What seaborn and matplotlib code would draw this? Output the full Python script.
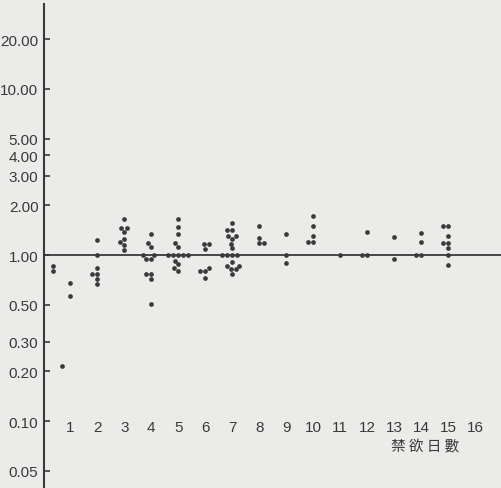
import matplotlib
matplotlib.use("Agg")
import matplotlib.pyplot as plt
import numpy as np
import pandas as pd
import seaborn as sns
from matplotlib.ticker import FixedLocator, FixedFormatter, NullLocator

# ---- data ----
# measurements taken within the first day
early_days = [0.37, 0.37, 0.68]
early_ratios = [0.86, 0.80, 0.215]

day1 = [0.68, 0.57]
day2 = [1.23, 1.0, 0.835, 0.77, 0.77, 0.72, 0.665]
day3 = [1.65, 1.45, 1.45, 1.38, 1.24, 1.19, 1.15, 1.07]
day4 = [1.34, 1.18, 1.12, 1.0, 1.0, 0.95, 0.95, 0.77, 0.77, 0.72, 0.51]
day5 = [1.65, 1.47, 1.33, 1.18, 1.12, 1.0, 1.0, 1.0, 1.0, 1.0, 0.92, 0.88, 0.84, 0.805]
day6 = [1.16, 1.16, 1.09, 0.84, 0.80, 0.80, 0.73]
day7 = [1.55, 1.41, 1.41, 1.30, 1.30, 1.25, 1.17, 1.10, 1.0, 1.0, 1.0, 1.0,
        0.91, 0.86, 0.86, 0.82, 0.82, 0.77]
day8 = [1.50, 1.26, 1.18, 1.18]
day9 = [1.34, 1.0, 0.89]
day10 = [1.71, 1.49, 1.30, 1.20, 1.20]
day11 = [1.0]
day12 = [1.37, 1.0, 1.0]
day13 = [1.28, 0.94]
day14 = [1.36, 1.19, 1.0, 1.0]
day15 = [1.50, 1.50, 1.30, 1.18, 1.18, 1.10, 1.0, 0.87]

day_lists = [day1, day2, day3, day4, day5, day6, day7, day8, day9, day10,
             day11, day12, day13, day14, day15]

y_tick_values = [20, 10, 5, 4, 3, 2, 1, 0.5, 0.3, 0.2, 0.1, 0.05]
y_tick_labels = ["20.00", "10.00", "5.00", "4.00", "3.00", "2.00", "1.00",
                 "0.50", "0.30", "0.20", "0.10", "0.05"]
x_tick_values = list(range(1, 17))
x_tick_labels = [str(v) for v in x_tick_values]
x_title = "禁 欲 日 數"

rows = []
for d, vals in enumerate(day_lists, start=1):
    for v in vals:
        rows.append({"day": d, "ratio": v})
df = pd.DataFrame(rows)

# ---- style ----
bg = "#ebebe9"
ink = "#3a3a3a"
sns.set_style("ticks")
plt.rcParams["font.family"] = ["Liberation Sans Narrow", "Liberation Sans", "DejaVu Sans"]

fig = plt.figure(figsize=(5.02, 4.89), dpi=100, facecolor=bg)
ax = fig.add_axes([44 / 502, 0, 458 / 502, 484 / 489])
ax.set_facecolor(bg)
ax.set_yscale("log")

sns.swarmplot(data=df, x="day", y="ratio", native_scale=True,
              log_scale=(False, True), color=ink, size=3.4, linewidth=0, ax=ax)
sns.scatterplot(x=early_days, y=early_ratios, color=ink, s=11.5,
                linewidth=0, ax=ax, legend=False)

ax.axhline(1.0, color=ink, lw=1.3, zorder=1)

ax.set_ylim(10 ** (-233 / 166), 10 ** (251 / 166))
ax.set_xlim(0.03, 16.99)

ax.yaxis.set_major_locator(FixedLocator(y_tick_values))
ax.yaxis.set_major_formatter(FixedFormatter(y_tick_labels))
ax.yaxis.set_minor_locator(NullLocator())
ax.tick_params(axis="y", direction="in", length=4, width=1.2, pad=4,
               labelsize=11, colors=ink)

ax.set_xticks(x_tick_values)
ax.set_xticklabels(x_tick_labels)
ax.xaxis.set_minor_locator(NullLocator())
ax.spines["bottom"].set_position(("data", 0.1))
ax.spines["bottom"].set_visible(False)
ax.tick_params(axis="x", length=0, pad=-1, labelsize=11, colors=ink)

for s in ["top", "right"]:
    ax.spines[s].set_visible(False)
ax.spines["left"].set_color(ink)
ax.spines["left"].set_linewidth(1.5)
ax.set_xlabel("")
ax.set_ylabel("")

fig.text(425 / 502, 1 - 447 / 489, x_title, ha="center", va="center",
         fontsize=10.5, color=ink, family=["Noto Sans CJK TC", "DejaVu Sans"])

fig.savefig("out.png", dpi=100, facecolor=bg)
